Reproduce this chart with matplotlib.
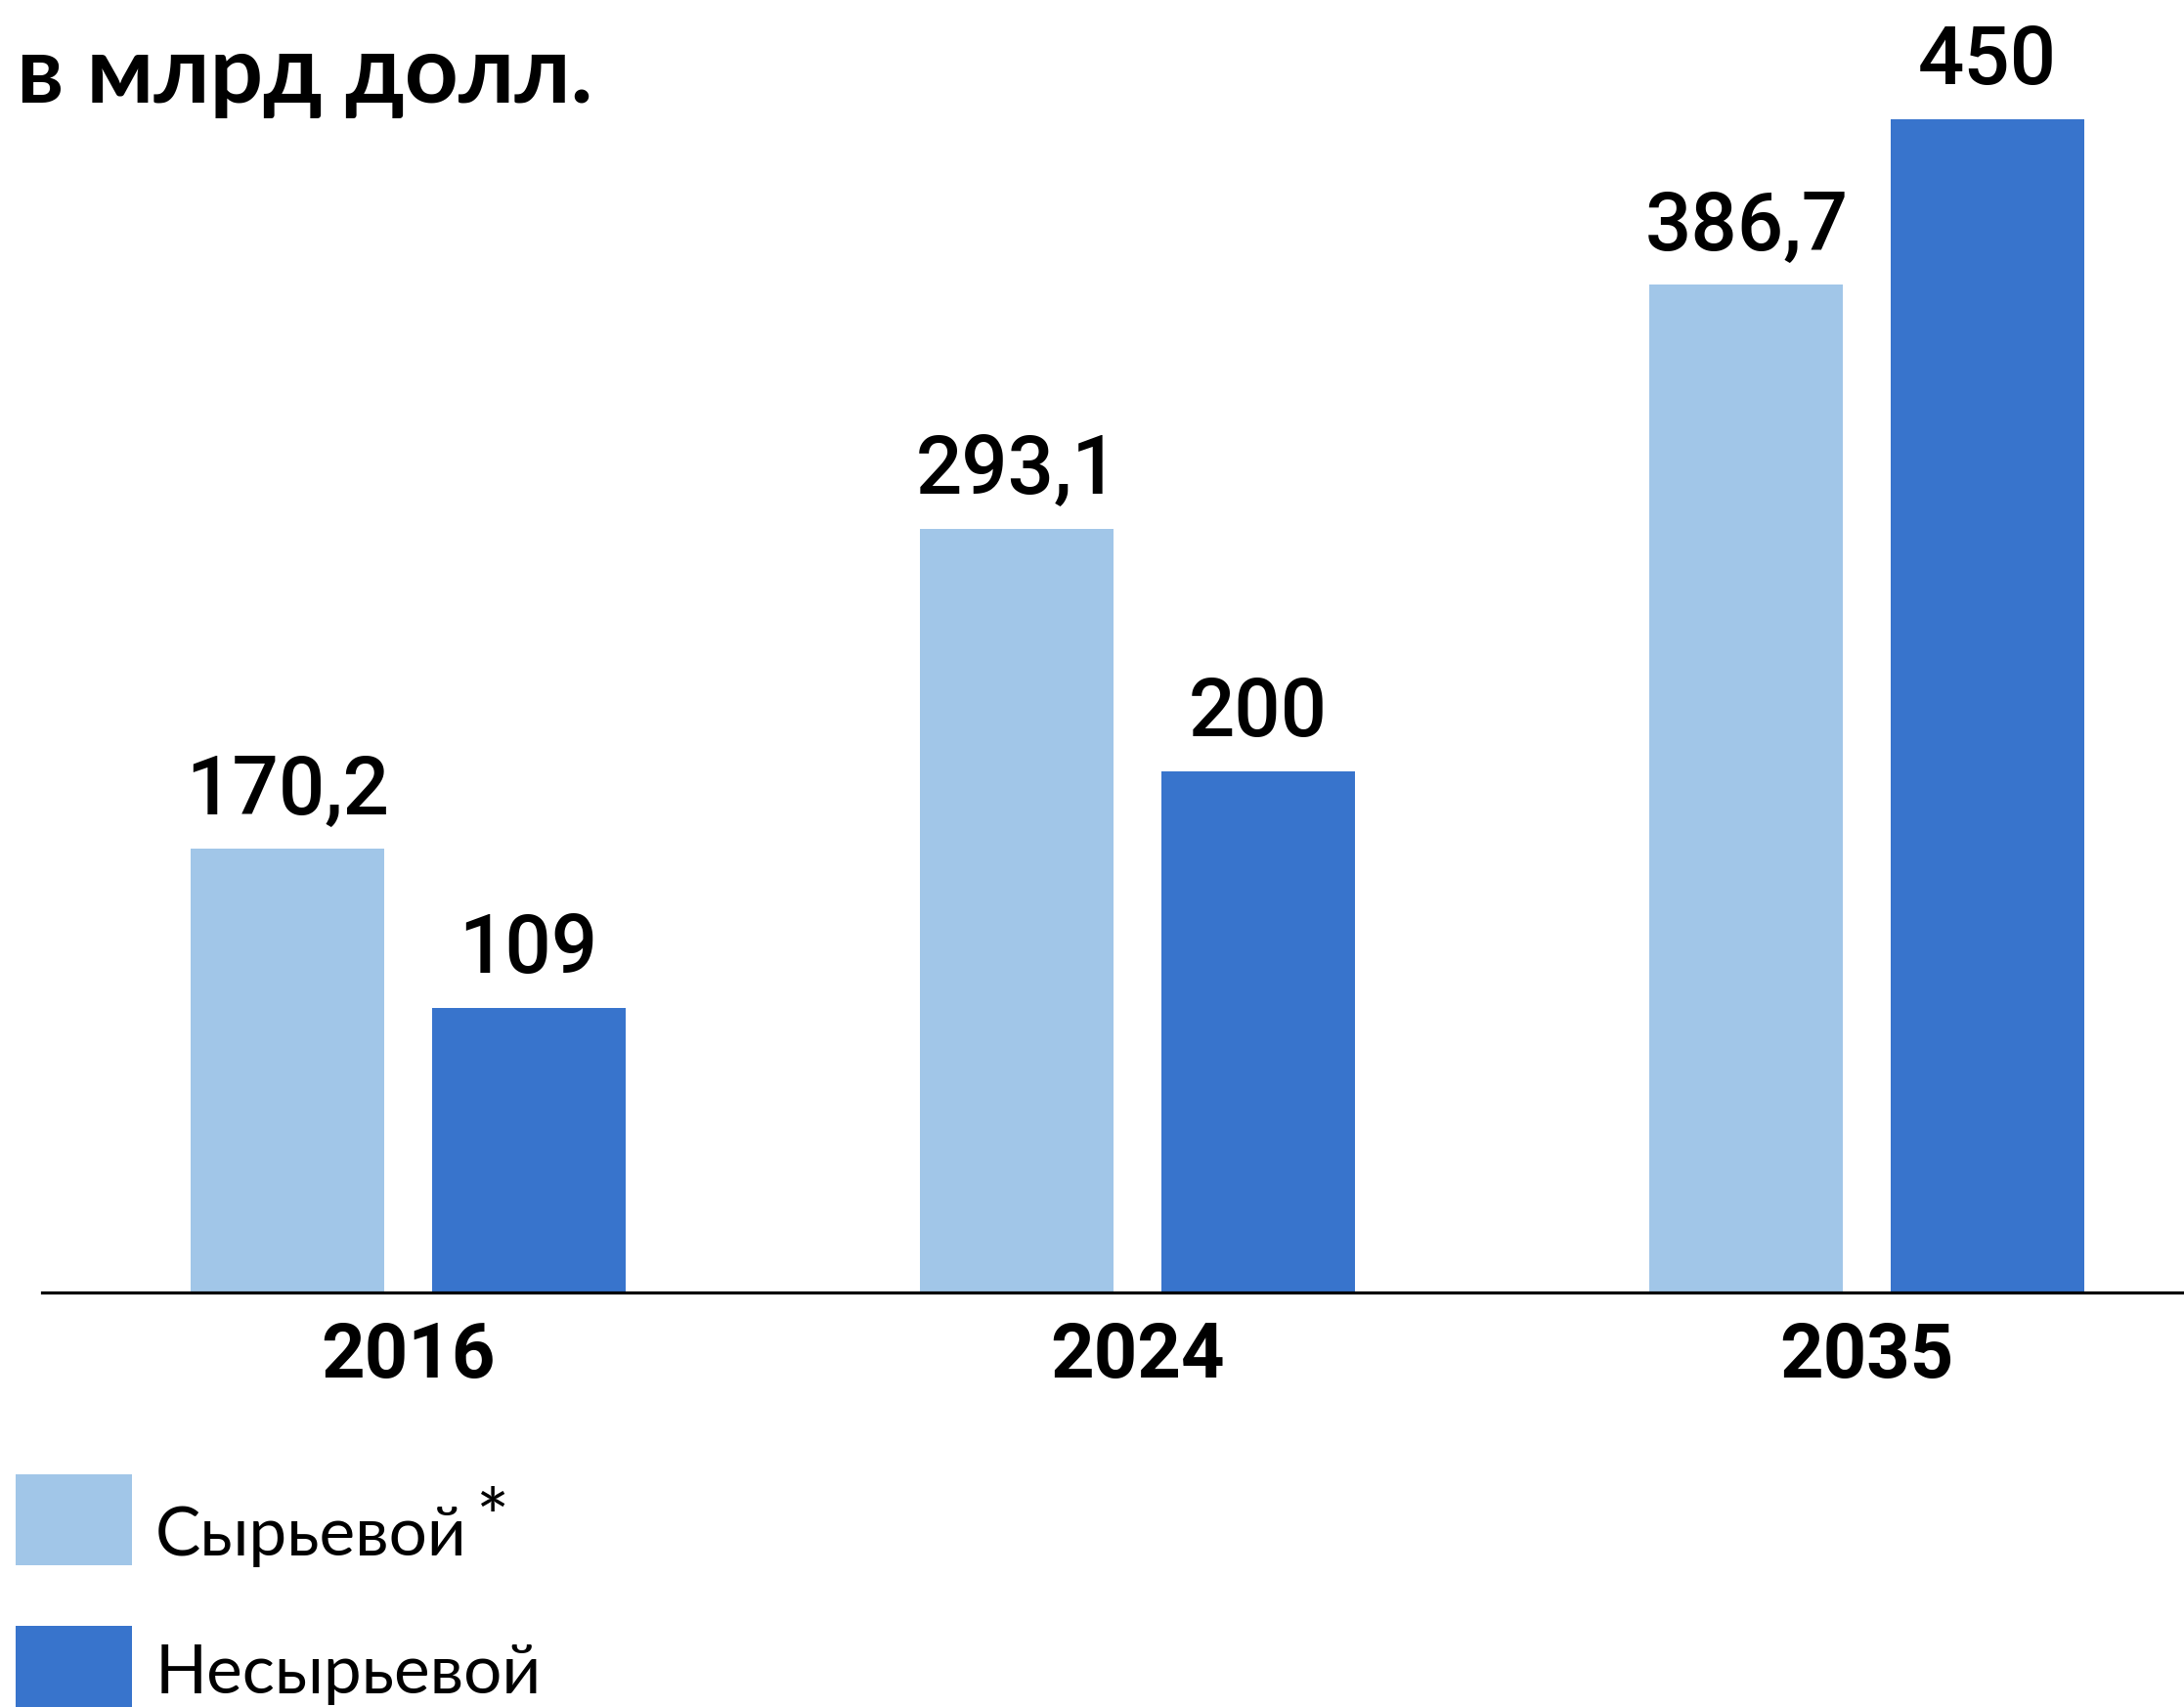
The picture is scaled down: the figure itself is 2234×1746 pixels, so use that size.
import matplotlib
matplotlib.use("Agg")
import matplotlib.pyplot as plt
from matplotlib.patches import Rectangle
from matplotlib.legend_handler import HandlerPatch, update_from_first_child
from matplotlib.container import BarContainer
import numpy as np

# ---- data ----
categories = ["2016", "2024", "2035"]
raw_values = [170.2, 293.1, 386.7]
nonraw_values = [109, 200, 450]
raw_labels = ["170,2", "293,1", "386,7"]
nonraw_labels = ["109", "200", "450"]
series_names = ["Сырьевой", "Несырьевой"]
title_text = "в млрд долл."

# ---- style ----
LIGHT = "#a1c6e8"
DARK = "#3874cc"
FONT = "Lato"
NUMFONT = ["Roboto", "DejaVu Sans"]
DPI = 100
W, H = 2234, 1746

plt.rcParams["font.family"] = [FONT, "DejaVu Sans"]

fig = plt.figure(figsize=(W / DPI, H / DPI), dpi=DPI)
ax_left = 43 / W
ax_bottom = 1 - 1322 / H
ax = fig.add_axes([ax_left, ax_bottom, 1 - ax_left, 1 - ax_bottom])

x = np.arange(len(categories))
bw = 0.2654
off = 0.1649
b1 = ax.bar(x - off, raw_values, width=bw, color=LIGHT, label=series_names[0], zorder=2)
b2 = ax.bar(x + off, nonraw_values, width=bw, color=DARK, label=series_names[1], zorder=2)

ax.set_xlim(-0.502, -0.502 + (W - 43) / 746)
ax.set_ylim(0, 1322 / 2.666)

for bars, labels in ((b1, raw_labels), (b2, nonraw_labels)):
    for rect, lab in zip(bars, labels):
        ax.annotate(lab, xy=(rect.get_x() + rect.get_width() / 2, rect.get_height()),
                    xytext=(0, 36 * 72 / DPI), textcoords="offset points",
                    ha="center", va="baseline", fontsize=60, fontweight="medium",
                    family=NUMFONT, color="black")

for s in ("top", "left", "right"):
    ax.spines[s].set_visible(False)
ax.spines["bottom"].set_linewidth(2.3)
ax.spines["bottom"].set_color("black")
ax.spines["bottom"].set_zorder(3)
ax.set_yticks([])
ax.set_xticks(x, categories)
ax.tick_params(axis="x", length=0, pad=21, labelsize=56)
for t in ax.get_xticklabels():
    t.set_fontweight("bold")
    t.set_family(NUMFONT)

fig.text(17 / W, 1 - 105 / H, title_text, fontsize=69, fontweight="bold",
         ha="left", va="baseline", color="black")

LFS = 50
lpx = LFS * DPI / 72
hh = (93 / lpx - 0.245) / 0.65
SHIFT_PT = 10  # raise the first patch relative to its label baseline
ROW2_RAISE_PX = 14


def patch_func(legend, orig_handle, xdescent, ydescent, width, height, fontsize):
    shift = SHIFT_PT if orig_handle is b1 else SHIFT_PT - ROW2_RAISE_PX * 72 / DPI
    return Rectangle((-xdescent, -ydescent + shift), width, height)


leg = fig.legend(handles=[b1, b2], labels=series_names, loc="upper left",
                 bbox_to_anchor=(16 / W, 1 - (1508 + SHIFT_PT * DPI / 72) / H),
                 frameon=False,
                 fontsize=LFS, handlelength=119 / lpx, handleheight=hh,
                 handletextpad=24 / lpx, labelspacing=(62 - ROW2_RAISE_PX) / lpx,
                 borderpad=0, borderaxespad=0,
                 handler_map={BarContainer: HandlerPatch(patch_func=patch_func,
                                                         update_func=update_from_first_child)})

fig.canvas.draw()
ext = leg.get_texts()[0].get_window_extent()
fig.text((ext.x1 + 8) / W, 1 - 1521 / H, "*", fontsize=58, ha="left", va="top",
         color="black")

fig.savefig("out.png", dpi=DPI)
